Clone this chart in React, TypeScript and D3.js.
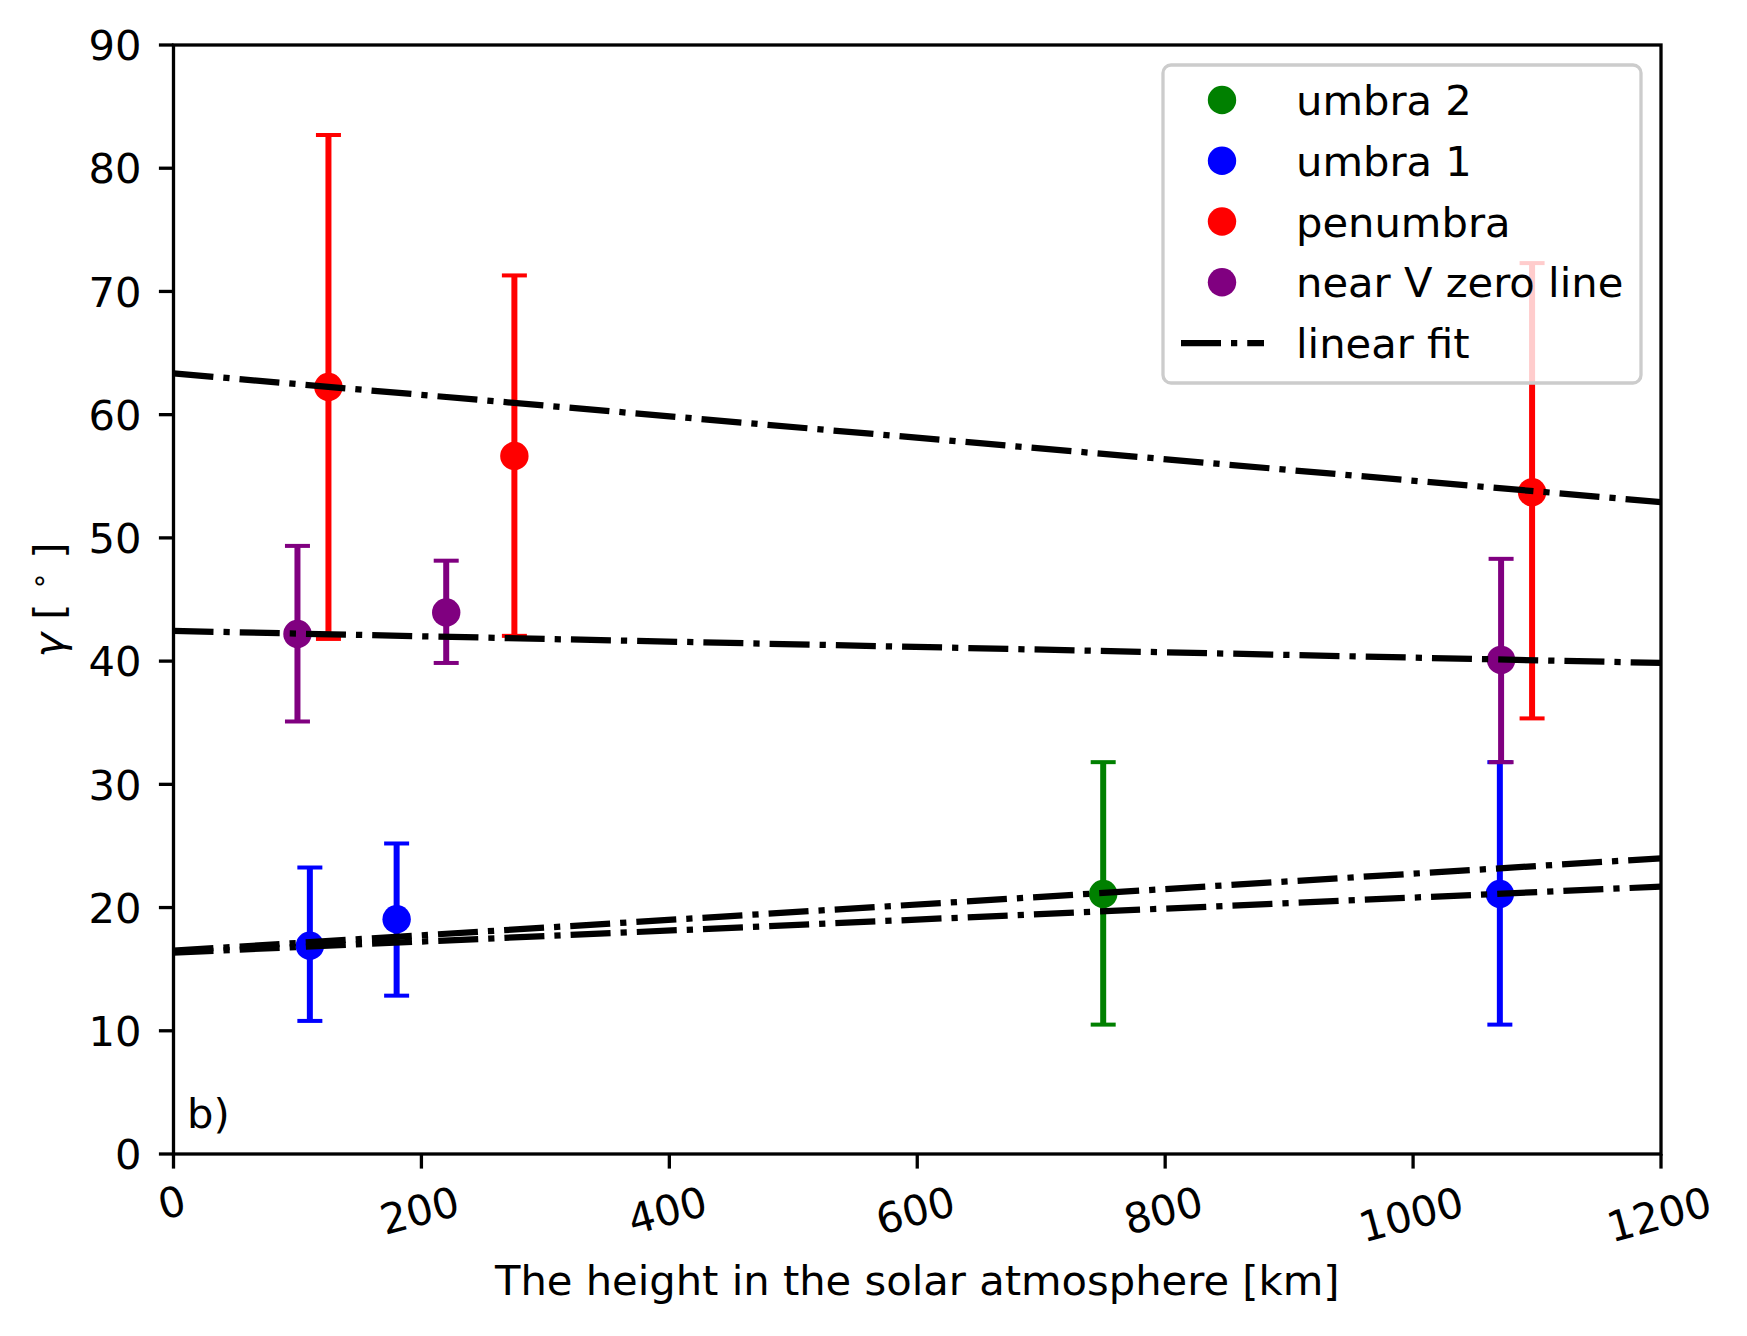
import * as d3 from 'd3';

// data (height in km, gamma in degrees)
const umbra2X = [750];
const umbra2Y = [21.1];
const umbra2Lo = [10.5];
const umbra2Hi = [31.8];

const umbra1X = [110, 180, 1070];
const umbra1Y = [16.9, 19.05, 21.1];
const umbra1Lo = [10.8, 12.85, 10.5];
const umbra1Hi = [23.25, 25.2, 31.8];

const penumbraX = [125, 275, 1096];
const penumbraY = [62.25, 56.65, 53.7];
const penumbraLo = [41.8, 42.05, 35.35];
const penumbraHi = [82.7, 71.3, 72.3];

const nearVX = [100, 220, 1071];
const nearVY = [42.2, 43.95, 40.1];
const nearVLo = [35.1, 39.85, 31.8];
const nearVHi = [49.35, 48.15, 48.3];

// linear fits: value at 0 km and at 1200 km
const fitStart = [63.35, 42.45, 16.5, 16.35];
const fitEnd = [52.9, 39.85, 24.0, 21.7];

const xTicks = [0, 200, 400, 600, 800, 1000, 1200];
const yTicks = [0, 10, 20, 30, 40, 50, 60, 70, 80, 90];

const legendLabels = ['umbra 2', 'umbra 1', 'penumbra', 'near V zero line', 'linear fit'];

const W = 1747;
const H = 1336;
const left = 173.5;
const right = 1661;
const top = 45;
const bottom = 1154;
const fs = 41.67;
const font = '"DejaVu Sans", sans-serif';
const dash = '40 10 6.25 10';

const x = d3.scaleLinear().domain([0, 1200]).range([left, right]);
const y = d3.scaleLinear().domain([0, 90]).range([bottom, top]);

const series = [
  { xs: umbra2X, ys: umbra2Y, lo: umbra2Lo, hi: umbra2Hi, color: 'green' },
  { xs: umbra1X, ys: umbra1Y, lo: umbra1Lo, hi: umbra1Hi, color: 'blue' },
  { xs: penumbraX, ys: penumbraY, lo: penumbraLo, hi: penumbraHi, color: 'red' },
  { xs: nearVX, ys: nearVY, lo: nearVLo, hi: nearVHi, color: 'purple' },
];

const line = d3.line<[number, number]>().x(d => x(d[0])).y(d => y(d[1]));

export default function App() {
  const cap = 12.5;
  return (
    <svg width={W} height={H} style={{ position: 'absolute', left: 0, top: 0, background: '#fff' }}
      fontFamily={font}>
      <defs>
        <clipPath id="plot">
          <rect x={left} y={top} width={right - left} height={bottom - top} />
        </clipPath>
      </defs>
      <rect width={W} height={H} fill="#fff" />

      <g clipPath="url(#plot)">
        {series.map((s, si) => (
          <g key={si}>
            {s.xs.map((v, i) => (
              <g key={i} stroke={s.color}>
                <line x1={x(v)} x2={x(v)} y1={y(s.lo[i])} y2={y(s.hi[i])} strokeWidth={6} />
                <line x1={x(v) - cap} x2={x(v) + cap} y1={y(s.lo[i])} y2={y(s.lo[i])} strokeWidth={4} />
                <line x1={x(v) - cap} x2={x(v) + cap} y1={y(s.hi[i])} y2={y(s.hi[i])} strokeWidth={4} />
              </g>
            ))}
          </g>
        ))}
        {series.map((s, si) => (
          <g key={'m' + si} fill={s.color}>
            {s.xs.map((v, i) => (
              <circle key={i} cx={x(v)} cy={y(s.ys[i])} r={14.2} />
            ))}
          </g>
        ))}
        {fitStart.map((a, i) => (
          <path key={i} d={line([[0, a], [1200, fitEnd[i]]]) || undefined} fill="none"
            stroke="#000" strokeWidth={6.25} strokeDasharray={dash} />
        ))}
      </g>

      {/* spines */}
      <rect x={left} y={top} width={right - left} height={bottom - top} fill="none" stroke="#000" strokeWidth={3.3} />

      {/* y axis */}
      {yTicks.map(t => (
        <g key={t}>
          <line x1={left - 14.6} x2={left} y1={y(t)} y2={y(t)} stroke="#000" strokeWidth={3.3} />
          <text x={left - 32} y={y(t) + 15.2} fontSize={fs} textAnchor="end">{t}</text>
        </g>
      ))}

      {/* x axis */}
      {xTicks.map(t => {
        const lab = String(t);
        const cy = 1198 + 4 * lab.length;
        return (
          <g key={t}>
            <line x1={x(t)} x2={x(t)} y1={bottom} y2={bottom + 14.6} stroke="#000" strokeWidth={3.3} />
            <g transform={`translate(${x(t) - 2},${cy}) rotate(-15)`}>
              <text x={0} y={15.2} fontSize={fs} textAnchor="middle">{lab}</text>
            </g>
          </g>
        );
      })}

      <text x={(left + right) / 2} y={1295} fontSize={fs} textAnchor="middle">
        The height in the solar atmosphere [km]
      </text>

      <g transform="translate(63,600) rotate(-90)">
        <text x={0} y={0} fontSize={fs} textAnchor="middle">
          <tspan fontStyle="italic">γ</tspan> [ <tspan fontSize={fs * 0.7} dy={-14}>∘</tspan><tspan dy={14}> ]</tspan>
        </text>
      </g>

      <text x={187} y={1128} fontSize={fs}>b)</text>

      {/* legend */}
      <rect x={1163} y={65} width={478} height={318} rx={8} fill="#fff" fillOpacity={0.8}
        stroke="#cccccc" strokeWidth={3.3} />
      {legendLabels.map((lab, i) => {
        const cy = 100 + i * 60.75;
        return (
          <g key={lab}>
            {i < 4 ? (
              <circle cx={1222} cy={cy} r={14.2} fill={series[i].color} />
            ) : (
              <line x1={1181} x2={1264} y1={cy} y2={cy} stroke="#000" strokeWidth={6.25} strokeDasharray={dash} />
            )}
            <text x={1296} y={cy + 15} fontSize={fs}>{lab}</text>
          </g>
        );
      })}
    </svg>
  );
}
